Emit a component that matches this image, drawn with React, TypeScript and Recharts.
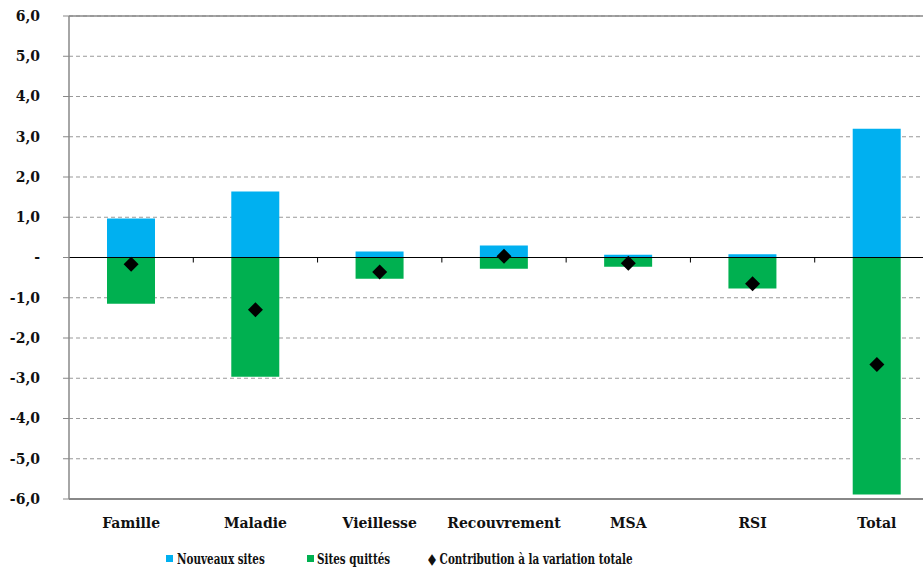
import React from 'react';
import { ComposedChart, Bar, Scatter, XAxis, YAxis, CartesianGrid, ReferenceLine } from 'recharts';

const categories = ['Famille', 'Maladie', 'Vieillesse', 'Recouvrement', 'MSA', 'RSI', 'Total'];
const nouveauxSites = [0.97, 1.64, 0.15, 0.3, 0.07, 0.08, 3.2];
const sitesQuittes = [-1.15, -2.96, -0.53, -0.28, -0.23, -0.77, -5.89];
const contribution = [-0.17, -1.3, -0.36, 0.03, -0.14, -0.65, -2.66];
const yTicks = [-6, -5, -4, -3, -2, -1, 0, 1, 2, 3, 4, 5, 6];

const data = categories.map((name, i) => ({
  name,
  nouveaux: nouveauxSites[i],
  quittes: sitesQuittes[i],
  contribution: contribution[i],
}));

const BLUE = '#00B0F0';
const GREEN = '#00B050';
const labelFont = '"DejaVu Serif", serif';

const fmtY = (v: number) => (v === 0 ? '-' : v.toFixed(1).replace('.', ','));

const Diamond = (props: any) => {
  const { cx, cy } = props;
  const r = 7.5;
  return <polygon points={`${cx},${cy - r} ${cx + r},${cy} ${cx},${cy + r} ${cx - r},${cy}`} fill="#000" />;
};

// zero line with small tick marks between categories
const ZeroLine = (props: any) => {
  const { x1, y1, x2 } = props;
  const step = (x2 - x1) / categories.length;
  return (
    <g>
      <line x1={x1} y1={y1} x2={x2} y2={y1} stroke="#000" strokeWidth={1} />
      {categories.slice(1).map((_, i) => (
        <line key={i} x1={x1 + step * (i + 1)} y1={y1} x2={x1 + step * (i + 1)} y2={y1 + 5} stroke="#000" />
      ))}
    </g>
  );
};

const legendText: React.CSSProperties = {
  position: 'absolute',
  fontFamily: '"DejaVu Serif Condensed", "DejaVu Serif", serif',
  fontWeight: 'bold',
  fontSize: 15,
  color: '#111',
  whiteSpace: 'nowrap',
  lineHeight: '16px',
  transform: 'scaleX(0.77)',
  transformOrigin: 'left center',
};

export default function App() {
  return (
    <div style={{ position: 'fixed', left: 0, top: 0, width: 923, height: 569, overflow: 'hidden', background: '#fff' }}>
      <ComposedChart
        width={945}
        height={569}
        data={data}
        stackOffset="sign"
        margin={{ top: 16, right: 6, bottom: 40, left: 0 }}
      >
        <CartesianGrid vertical={false} stroke="#999" strokeDasharray="4 3" />
        <XAxis
          dataKey="name"
          height={30}
          axisLine={{ stroke: '#888', strokeWidth: 2 }}
          tickLine={false}
          tickSize={0}
          tickMargin={19}
          tick={{ fontFamily: labelFont, fontWeight: 'bold', fontSize: 14, fill: '#111' }}
        />
        <YAxis
          domain={[-6, 6]}
          ticks={yTicks}
          width={69}
          tickFormatter={fmtY}
          tickSize={6}
          tickMargin={23}
          axisLine={{ stroke: '#888', strokeWidth: 1.5 }}
          tickLine={{ stroke: '#888' }}
          tick={{ fontFamily: labelFont, fontWeight: 'bold', fontSize: 14, fill: '#111' }}
          allowDataOverflow
        />
        <ReferenceLine y={6} stroke="#888" strokeWidth={1.5} />
        <Bar dataKey="nouveaux" stackId="a" fill={BLUE} barSize={48} isAnimationActive={false} />
        <Bar dataKey="quittes" stackId="a" fill={GREEN} barSize={48} isAnimationActive={false} />
        <ReferenceLine y={0} shape={ZeroLine} />
        <Scatter dataKey="contribution" fill="#000" shape={Diamond} isAnimationActive={false} />
      </ComposedChart>
      <div style={{ position: 'absolute', left: 166, top: 555, width: 7, height: 7, background: BLUE }} />
      <div style={{ ...legendText, left: 177, top: 551 }}>Nouveaux sites</div>
      <div style={{ position: 'absolute', left: 307, top: 555, width: 7, height: 7, background: GREEN }} />
      <div style={{ ...legendText, left: 317, top: 551 }}>Sites quittés</div>
      <div style={{ ...legendText, left: 428, top: 551 }}>◆ Contribution à la variation totale</div>
    </div>
  );
}
